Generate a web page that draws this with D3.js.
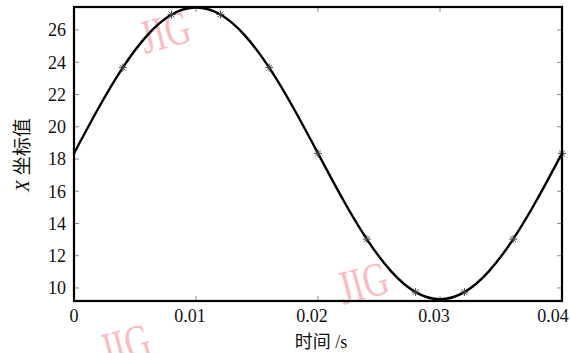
<!DOCTYPE html>
<html>
<head>
<meta charset="utf-8">
<script src="https://cdn.jsdelivr.net/npm/d3@7/dist/d3.min.js"></script>
<style>
  body { margin: 0; background: #fff; }
  svg text { font-family: "Liberation Serif", "DejaVu Serif", serif; fill: #111; }
  svg tspan.cjk { font-family: "Noto Sans CJK SC", sans-serif; }
</style>
</head>
<body>
<svg id="chart" width="570" height="353"></svg>
<script>
// time (s) and X coordinate, every 0.002 s
var times = [0, 0.002, 0.004, 0.006, 0.008, 0.010, 0.012, 0.014, 0.016, 0.018, 0.020,
             0.022, 0.024, 0.026, 0.028, 0.030, 0.032, 0.034, 0.036, 0.038, 0.040];
var xValues = [18.35, 21.15, 23.67, 25.67, 26.96, 27.40, 26.96, 25.67, 23.67, 21.15, 18.35,
               15.55, 13.03, 11.03, 9.74, 9.30, 9.74, 11.03, 13.03, 15.55, 18.35];
// sample points drawn as "*"
var markTimes = [0.004, 0.008, 0.012, 0.016, 0.020, 0.024, 0.028, 0.032, 0.036, 0.040];
var markValues = [23.67, 26.96, 26.96, 23.67, 18.35, 13.03, 9.74, 9.74, 13.03, 18.35];
var xTicks = [0, 0.01, 0.02, 0.03, 0.04];
var xTickLabels = ["0", "0.01", "0.02", "0.03", "0.04"];
var yTicks = [10, 12, 14, 16, 18, 20, 22, 24, 26];
var watermarks = [[165, 32], [363, 283], [125, 345]];

(function () {
var svg = d3.select("#chart");
var pl = 74, pr = 562, pt = 7, pb = 301;

var x = d3.scaleLinear().domain([0, 0.04]).range([pl, pr]);
var y = d3.scaleLinear().domain([9.19, 27.43]).range([pb, pt]);

// watermarks behind everything
watermarks.forEach(function (p) {
    svg.append("g")
        .attr("transform", "translate(" + p[0] + "," + p[1] + ") rotate(-15) scale(0.72,1)")
        .append("text")
        .attr("text-anchor", "middle")
        .attr("dominant-baseline", "central")
        .style("font-size", "48px")
        .style("fill", "#f9bcc1")
        .text("JIG");
});

// inward ticks, gray
var tickCol = "#8a8a8a";
svg.append("g").selectAll("line").data(yTicks).enter().append("line")
    .attr("x1", pl).attr("x2", pl + 5)
    .attr("y1", function (d) { return y(d); }).attr("y2", function (d) { return y(d); })
    .attr("stroke", tickCol).attr("stroke-width", 1);
svg.append("g").selectAll("line").data(yTicks).enter().append("line")
    .attr("x1", pr).attr("x2", pr - 5)
    .attr("y1", function (d) { return y(d); }).attr("y2", function (d) { return y(d); })
    .attr("stroke", tickCol).attr("stroke-width", 1);
svg.append("g").selectAll("line").data(xTicks).enter().append("line")
    .attr("y1", pb).attr("y2", pb - 5)
    .attr("x1", function (d) { return x(d); }).attr("x2", function (d) { return x(d); })
    .attr("stroke", tickCol).attr("stroke-width", 1);
svg.append("g").selectAll("line").data(xTicks).enter().append("line")
    .attr("y1", pt).attr("y2", pt + 5)
    .attr("x1", function (d) { return x(d); }).attr("x2", function (d) { return x(d); })
    .attr("stroke", tickCol).attr("stroke-width", 1);

// tick labels
svg.append("g").selectAll("text").data(yTicks).enter().append("text")
    .attr("x", pl - 8).attr("y", function (d) { return y(d); })
    .attr("text-anchor", "end").attr("dy", "0.35em")
    .style("font-size", "18px")
    .text(function (d) { return d; });
// labels sit a little left of their ticks, the last one kept inside the page
svg.append("g").selectAll("text").data(xTicks).enter().append("text")
    .attr("x", function (d, i) {
        if (i === 0) return x(d);
        return Math.min(x(d) - 6, 553);
    })
    .attr("y", 322)
    .attr("text-anchor", "middle")
    .style("font-size", "18px")
    .text(function (d, i) { return xTickLabels[i]; });

// curve
var pts = times.map(function (t, i) { return [t, xValues[i]]; });
var line = d3.line()
    .x(function (d) { return x(d[0]); })
    .y(function (d) { return y(d[1]); })
    .curve(d3.curveNatural);
svg.append("path").datum(pts)
    .attr("d", line)
    .attr("fill", "none").attr("stroke", "#000").attr("stroke-width", 2.4);

// asterisk markers
var mk = svg.append("g").attr("stroke", "#444").attr("stroke-width", 1);
markTimes.forEach(function (t, i) {
    var cx = x(t), cy = y(markValues[i]), r = 4;
    mk.append("line").attr("x1", cx - r).attr("x2", cx + r).attr("y1", cy).attr("y2", cy);
    mk.append("line").attr("x1", cx).attr("x2", cx).attr("y1", cy - r).attr("y2", cy + r);
    mk.append("line").attr("x1", cx - r * 0.7).attr("x2", cx + r * 0.7).attr("y1", cy - r * 0.7).attr("y2", cy + r * 0.7);
    mk.append("line").attr("x1", cx - r * 0.7).attr("x2", cx + r * 0.7).attr("y1", cy + r * 0.7).attr("y2", cy - r * 0.7);
});

// frame
svg.append("rect")
    .attr("x", pl).attr("y", pt)
    .attr("width", pr - pl).attr("height", pb - pt)
    .attr("fill", "none").attr("stroke", "#000").attr("stroke-width", 2.2);

// axis titles
var xt = svg.append("text")
    .attr("x", 321).attr("y", 348)
    .attr("text-anchor", "middle")
    .style("font-size", "18px");
xt.append("tspan").attr("class", "cjk").text("时间");
xt.append("tspan").text(" /s");

var yt = svg.append("text")
    .attr("transform", "translate(29," + ((pt + pb) / 2 + 1) + ") rotate(-90)")
    .attr("text-anchor", "middle")
    .style("font-size", "19px");
yt.append("tspan").style("font-style", "italic").text("X");
yt.append("tspan").text(" ");
yt.append("tspan").attr("class", "cjk").text("坐标值");
})();
</script>
</body>
</html>
